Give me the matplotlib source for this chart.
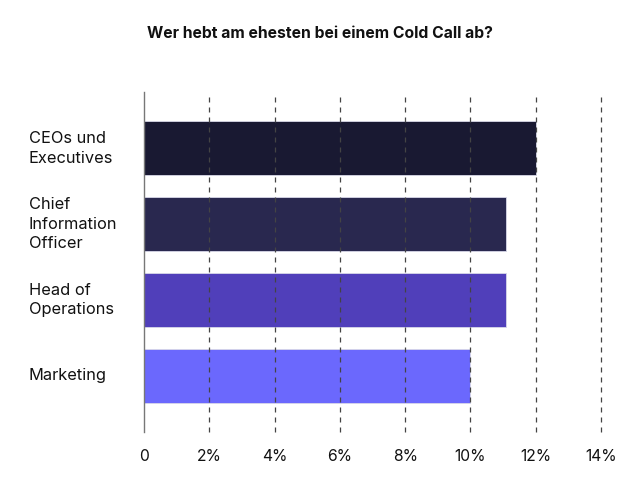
import matplotlib
matplotlib.use("Agg")
import matplotlib.pyplot as plt
import matplotlib.transforms as mtransforms

categories = ["CEOs und\nExecutives", "Chief\nInformation\nOfficer", "Head of\nOperations", "Marketing"]
values = [12.0, 11.1, 11.1, 10.0]
colors = ["#191932", "#29284f", "#503fba", "#6b68fd"]
xticks = [0, 2, 4, 6, 8, 10, 12, 14]
xticklabels = ["0", "2%", "4%", "6%", "8%", "10%", "12%", "14%"]
title = "Wer hebt am ehesten bei einem Cold Call ab?"

plt.rcParams['font.family'] = ['Inter', 'DejaVu Sans']

fig = plt.figure(figsize=(6.39, 4.87), dpi=100)
ax = fig.add_axes([144/639, 1-432/487, (601-144)/639, (432-92)/487])

ypos = list(range(len(categories)))
ax.barh(ypos, values, height=0.71, color=colors, edgecolor="#d8d8e8", linewidth=0.6, zorder=1)
ax.set_ylim(3.74, -0.74)
ax.set_xlim(0, 14)
ax.set_xticks(xticks)
ax.set_xticklabels(xticklabels, fontsize=11.3, color="#111111")
ax.tick_params(axis='x', length=0, pad=12)
ax.set_yticks([])

trans = mtransforms.blended_transform_factory(fig.transFigure, ax.transData)
for y, lab in zip(ypos, categories):
    fig.text(29/639, y, lab, transform=trans, ha='left', va='center',
             fontsize=11.8, color="#111111", linespacing=1.4)

for x in xticks[1:]:
    ax.axvline(x, color="#444444", linestyle=(0, (4, 4)), linewidth=0.9, zorder=2, clip_on=False)

for s in ["top", "right", "bottom"]:
    ax.spines[s].set_visible(False)
ax.spines["left"].set_color("#777777")
ax.spines["left"].set_linewidth(1.0)
ax.spines["left"].set_zorder(3)

fig.text(0.5, 1-33/487, title, ha='center', va='center', fontsize=11.3, fontweight='bold', color="#111111")

fig.savefig("out.png", dpi=100)
